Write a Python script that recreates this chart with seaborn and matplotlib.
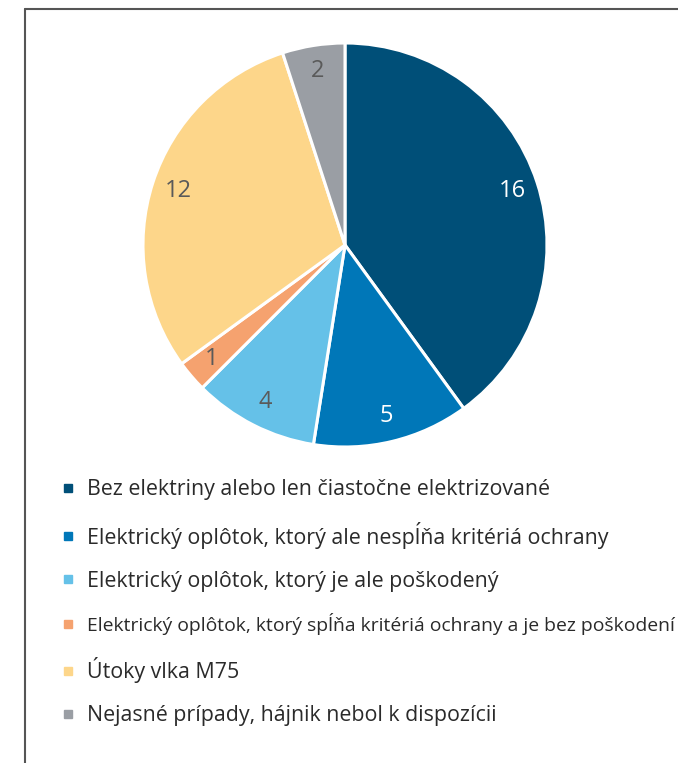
import matplotlib
matplotlib.use("Agg")
import matplotlib.pyplot as plt
from matplotlib.lines import Line2D
import seaborn as sns

sns.set_theme(style="white")
plt.rcParams['font.family'] = ['Open Sans', 'DejaVu Sans']

categories = [
    "Bez elektriny alebo len čiastočne elektrizované",
    "Elektrický oplôtok, ktorý ale nespĺňa kritériá ochrany",
    "Elektrický oplôtok, ktorý je ale poškodený",
    "Elektrický oplôtok, ktorý spĺňa kritériá ochrany a je bez poškodení",
    "Útoky vlka M75",
    "Nejasné prípady, hájnik nebol k dispozícii",
]
values = [16, 5, 4, 1, 12, 2]
colors = ["#004f78", "#0077b8", "#65c1e8", "#f5a26f", "#fdd68a", "#9a9ea4"]
label_colors = ["white", "white", "#5a5a5a", "#5a5a5a", "#5a5a5a", "#5a5a5a"]

W, H = 678, 763
fig = plt.figure(figsize=(W / 100, H / 100), dpi=100)

cx, cy, r = 345, 245, 202
ax = fig.add_axes([(cx - r) / W, (H - cy - r) / H, 2 * r / W, 2 * r / H])
wedges, texts = ax.pie(
    values, labels=[str(v) for v in values], startangle=90, counterclock=False,
    colors=colors, labeldistance=0.87,
    wedgeprops=dict(edgecolor="white", linewidth=2.2),
    textprops=dict(fontsize=17),
)
for t in texts:
    t.set_horizontalalignment("center")
    t.set_verticalalignment("center")
for t, c in zip(texts, label_colors):
    t.set_color(c)
ax.set_xlim(-1, 1)
ax.set_ylim(-1, 1)
ax.set_aspect("equal")

handles = [Line2D([], [], marker="s", linestyle="none", markersize=5.5,
                  markerfacecolor=c, markeredgecolor=c) for c in colors]
leg = fig.legend(handles, categories, loc="upper left",
                 bbox_to_anchor=(62 / W, 1 - 479 / H), frameon=False,
                 fontsize=15.4, labelspacing=1.02, handlelength=0.55,
                 handletextpad=0.6, borderaxespad=0, borderpad=0,
                 labelcolor="#2a2a2a")
leg.get_texts()[3].set_fontsize(13.9)

fig.add_artist(Line2D([25 / W, 25 / W], [0, 1 - 9 / H], color="#555555", lw=1.5,
                      transform=fig.transFigure))
fig.add_artist(Line2D([25 / W, 1], [1 - 9 / H, 1 - 9 / H], color="#555555", lw=1.5,
                      transform=fig.transFigure))

fig.savefig("out.png", dpi=100)
